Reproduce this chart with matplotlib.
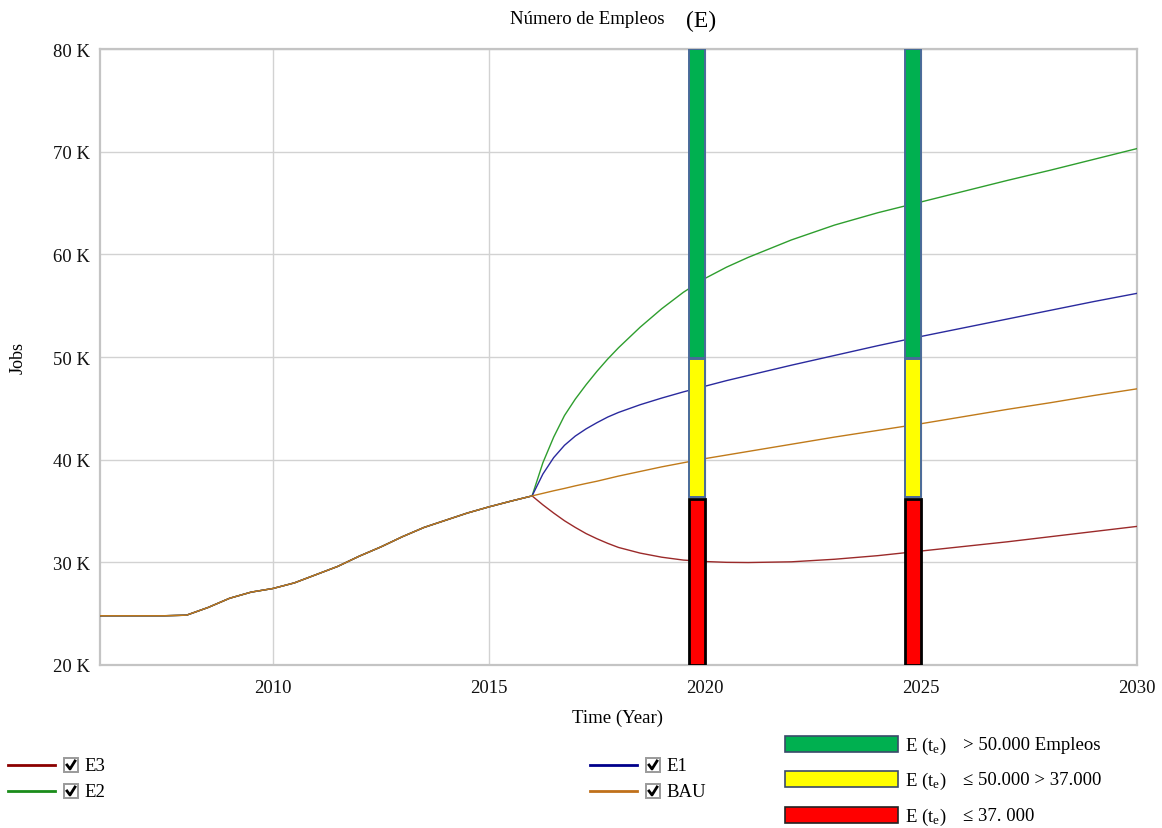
import matplotlib
matplotlib.use("Agg")
import matplotlib.pyplot as plt
from matplotlib.patches import Rectangle
from matplotlib.lines import Line2D
from matplotlib.ticker import FuncFormatter

plt.rcParams['font.family'] = ['Liberation Serif', 'DejaVu Serif']
plt.rcParams['mathtext.fontset'] = 'custom'
plt.rcParams['mathtext.rm'] = 'Liberation Serif'
plt.rcParams['mathtext.it'] = 'Liberation Serif:italic'

# ---- data (thousands of jobs) ----
history_years = [2006, 2006.5, 2007, 2007.5, 2008, 2008.5, 2009, 2009.5, 2010,
                 2010.5, 2011, 2011.5, 2012, 2012.5, 2013, 2013.5, 2014,
                 2014.5, 2015, 2015.5]
history_jobs = [24.8, 24.8, 24.8, 24.8, 24.85, 25.6, 26.5, 27.1, 27.45,
                28.0, 28.8, 29.6, 30.6, 31.5, 32.5, 33.4, 34.1,
                34.8, 35.4, 35.95]

scenario_years = [2016, 2016.25, 2016.5, 2016.75, 2017, 2017.25, 2017.5,
                  2017.75, 2018, 2018.5, 2019, 2019.5, 2020, 2020.5, 2021,
                  2022, 2023, 2024, 2025, 2026, 2027, 2028, 2029, 2030]
e3_jobs = [36.47, 35.6, 34.8, 34.05, 33.4, 32.8, 32.3,
           31.85, 31.45, 30.9, 30.5, 30.22, 30.08, 30.0, 29.98,
           30.05, 30.3, 30.65, 31.1, 31.55, 32.0, 32.5, 33.0, 33.5]
e2_jobs = [36.47, 39.7, 42.2, 44.3, 45.9, 47.3, 48.6,
           49.8, 50.9, 52.9, 54.7, 56.3, 57.65, 58.75, 59.7,
           61.4, 62.85, 64.05, 65.1, 66.15, 67.2, 68.2, 69.25, 70.3]
e1_jobs = [36.47, 38.6, 40.2, 41.4, 42.3, 43.0, 43.6,
           44.15, 44.6, 45.35, 46.0, 46.6, 47.15, 47.7, 48.2,
           49.2, 50.15, 51.1, 52.0, 52.85, 53.7, 54.55, 55.4, 56.2]
bau_jobs = [36.47, 36.72, 36.97, 37.2, 37.45, 37.68, 37.9,
            38.15, 38.4, 38.85, 39.3, 39.7, 40.1, 40.45, 40.8,
            41.5, 42.2, 42.85, 43.5, 44.2, 44.9, 45.55, 46.25, 46.9]

series_names = ["E3", "E2", "E1", "BAU"]
series_values = [e3_jobs, e2_jobs, e1_jobs, bau_jobs]
series_colors = ["#9b2a2a", "#2e9e2e", "#2a2a9e", "#c07a1a"]
legend_colors = ["#8b0000", "#1a8c1a", "#00008b", "#c0701a"]

# threshold bands shown at the evaluation years
eval_years = [2020, 2025]
band_low = [20.0, 36.4, 49.9]
band_high = [36.2, 49.8, 80.0]
band_colors = ["#ff0000", "#ffff00", "#00b050"]
band_edges = ["#000000", "#4a6a9a", "#4a6a9a"]
band_labels = ["≤ 37. 000", "≤ 50.000 > 37.000", "> 50.000 Empleos"]

y_ticks = [20, 30, 40, 50, 60, 70, 80]
x_ticks = [2010, 2015, 2020, 2025, 2030]

W, H = 1162, 829
FS = 13.5
fig = plt.figure(figsize=(W / 100, H / 100), dpi=100)
ax = fig.add_axes([100 / W, 1 - 666 / H, (1137 - 100) / W, (666 - 50) / H])


def fx(px):
    return px / W


def fy(py):
    return 1 - py / H


ax.set_xlim(2006, 2030)
ax.set_ylim(20, 80)
ax.set_xticks(x_ticks)
ax.set_yticks(y_ticks)
ax.yaxis.set_major_formatter(FuncFormatter(lambda v, p: f"{int(v)} K"))
ax.tick_params(length=0, labelsize=FS, colors="#111111")
ax.tick_params(axis="y", pad=7)
ax.tick_params(axis="x", pad=10)
ax.grid(True, color="#d2d2d2", lw=1.0)
ax.set_axisbelow(True)
for s in ax.spines.values():
    s.set_color("#c4c4c4")
    s.set_linewidth(1.6)

for name, vals, col in zip(series_names, series_values, series_colors):
    ax.plot(history_years + scenario_years, history_jobs + vals,
            color=col, lw=1.0, zorder=3)

bar_width = 0.37
for lo, hi, fc, ec in zip(band_low, band_high, band_colors, band_edges):
    ax.bar([y - bar_width for y in eval_years], [hi - lo] * len(eval_years),
           bottom=lo, width=bar_width, align="edge", color=fc,
           edgecolor=ec, linewidth=2.0 if ec == "#000000" else 1.4, zorder=4)

fig.text(fx(587), fy(20), "Número de Empleos", ha="center", va="center",
         fontsize=FS)
fig.text(fx(701), fy(21), "(E)", ha="center", va="center", fontsize=17)
fig.text(fx(18), fy(358), "Jobs", ha="center", va="center", rotation=90,
         fontsize=FS - 0.5)
fig.text(fx(618), fy(718), "Time (Year)", ha="center", va="center",
         fontsize=FS)


def checkbox(px, py):
    fig.patches.append(Rectangle((fx(px), fy(py + 7)), 14 / W, 14 / H,
                                 transform=fig.transFigure, facecolor="white",
                                 edgecolor="#9a9a9a", lw=1.4))
    fig.add_artist(Line2D([fx(px + 3), fx(px + 6), fx(px + 11)],
                          [fy(py), fy(py + 4), fy(py - 4)],
                          transform=fig.transFigure, color="black", lw=2.0))


legend_pos = [(8, 766), (8, 792), (590, 766), (590, 792)]
for name, col, (lx, ly) in zip(series_names, legend_colors, legend_pos):
    fig.add_artist(Line2D([fx(lx), fx(lx + 47)], [fy(ly), fy(ly)],
                          transform=fig.transFigure, color=col, lw=2.0))
    checkbox(lx + 56, ly)
    fig.text(fx(lx + 76), fy(ly + 1), name, ha="left", va="center",
             fontsize=FS)

band_rows = [816, 780, 745]
for lab, fc, row in zip(band_labels, band_colors, band_rows):
    fig.patches.append(Rectangle((fx(785), fy(row + 8)), 113 / W, 16 / H,
                                 transform=fig.transFigure, facecolor=fc,
                                 edgecolor="#3a4a6a" if fc != "#ff0000" else "#222222",
                                 lw=1.2))
    fig.text(fx(905), fy(row + 1), r"E (t$_{\rm e}$)", ha="left", va="center",
             fontsize=FS)
    fig.text(fx(963), fy(row + 1), lab, ha="left", va="center",
             fontsize=FS)

fig.savefig("out.png", dpi=100, facecolor="white")
